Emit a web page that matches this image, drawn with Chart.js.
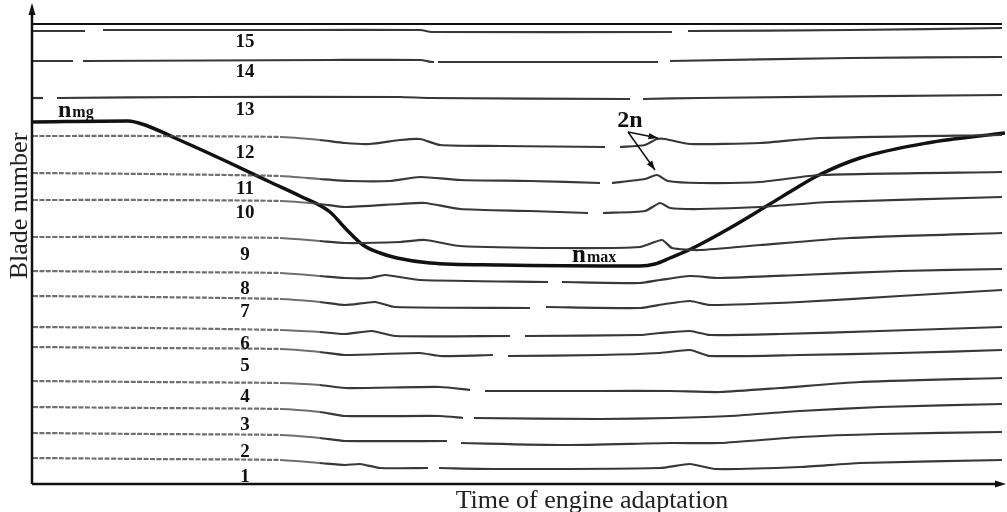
<!DOCTYPE html>
<html lang="en">
<head>
  <meta charset="UTF-8">
  <title>Blade number - time of engine adaptation</title>
  <script src="https://cdn.jsdelivr.net/npm/chart.js@4/dist/chart.umd.min.js"></script>
  <style>
    body { margin: 0; background: #fff; }
  </style>
</head>
<body>
  <canvas id="chart" width="1007" height="512"></canvas>

  <script>
    // traces: [time, level] pairs, null = gap in the record
    var blade15 = [[0,453],[52,453],null,[70,454],[267,454],[387,454],[399,452],[639,452],null,[655,453],[817,454],[969,456]]
    var blade14 = [[0,423],[40,423],null,[50,423],[297,424],[387,424],[399,422],[401,422],null,[405,422],[625,422],null,[637,423],[817,426],[969,427]]
    var blade13 = [[0,386],[10,386],null,[24,386],[167,387],[367,387],[397,386],[597,385],null,[610,385],[667,386],[969,389]]
    var blade12 = [[0,348],[117,348],[247,347],[287,344],[312,341],[337,340],[367,344],[387,345],[407,339],[467,338],[572,337],null,[587,337],[612,339],[624,345],[632,345],[657,340],[727,341],[787,346],[969,349]]
    var blade11 = [[0,311],[117,310],[247,308],[287,305],[317,303],[357,303],[387,307],[427,304],[497,303],[567,301],null,[579,301],[612,305],[624,309],[635,303],[667,301],[727,302],[787,309],[969,312]]
    var blade10 = [[0,284],[117,284],[247,283],[287,280],[312,277],[367,280],[392,281],[427,275],[497,273],[555,271],null,[570,271],[612,273],[627,281],[637,276],[667,275],[727,277],[797,282],[969,287]]
    var blade9 = [[0,247],[117,247],[247,246],[287,243],[312,241],[367,242],[392,244],[427,238],[527,236],[607,237],[629,244],[639,236],[667,234],[727,239],[817,246],[969,251]]
    var blade8 = [[0,213],[117,212],[247,211],[287,208],[312,206],[337,206],[352,209],[387,204],[515,202],null,[529,202],[607,201],[627,204],[657,208],[687,206],[767,209],[867,213],[969,215]]
    var blade7 = [[0,188],[117,187],[247,185],[287,182],[312,179],[342,182],[362,177],[497,176],null,[513,177],[607,176],[632,180],[657,183],[677,179],[767,182],[867,188],[969,194]]
    var blade6 = [[0,157],[117,156],[247,154],[287,152],[312,150],[339,153],[362,148],[477,148],null,[492,148],[607,149],[627,151],[657,153],[677,149],[747,150],[847,153],[969,157]]
    var blade5 = [[0,137],[117,136],[247,135],[287,132],[312,129],[387,131],[407,128],[460,129],null,[475,128],[567,129],[627,131],[657,134],[677,128],[767,129],[867,131],[969,134]]
    var blade4 = [[0,103],[117,102],[247,101],[287,99],[312,96],[407,97],[437,94],null,[452,93],[567,93],[637,93],[687,92],[747,96],[827,102],[969,106]]
    var blade3 = [[0,77],[117,76],[247,75],[287,72],[312,68],[407,68],[430,66],null,[441,66],[567,65],[637,66],[697,68],[767,73],[847,77],[969,80]]
    var blade2 = [[0,51],[117,50],[247,49],[287,46],[312,43],[414,43],null,[428,41],[532,39],[637,41],[687,41],[767,47],[847,50],[969,52]]
    var blade1 = [[0,26],[117,25],[247,24],[287,21],[312,19],[327,20],[347,16],[395,16],null,[406,16],[467,15],[627,16],[657,20],[682,15],[767,17],[827,21],[969,24]]

    // rotation speed n: from n_mg down to n_max and back
    var speedCurve = [[0,362],[95,363],[112,359],[142,346],[197,321],[237,302],[267,288],[297,272],[312,256],[330,239],[347,231],[364,226],[397,221],[467,219],[607,218],[622,220],[637,226],[660,236],[697,256],[737,280],[760,294],[784,308],[827,326],[894,341],[972,351]]

    var blades = [blade1, blade2, blade3, blade4, blade5, blade6, blade7, blade8, blade9, blade10, blade11, blade12, blade13, blade14, blade15]
    var bladeNumbers = ['1','2','3','4','5','6','7','8','9','10','11','12','13','14','15']
    var bladeLabelLevel = [7, 32, 59, 87, 118, 140, 172, 195, 229, 271, 295, 331, 374, 412, 442]
    var labelTime = 212

    function toPoints(pairs) {
      var pts = []
      pairs.forEach(function (p, i) {
        if (p) pts.push({ x: p[0], y: p[1] })
        else pts.push({ x: pairs[i - 1][0] + 1, y: null })
      })
      return pts
    }

    var datasets = blades.map(function (b, i) {
      var noisy = i < 12
      return {
        data: toPoints(b),
        borderColor: '#383838',
        borderWidth: 2.2,
        pointRadius: 0,
        tension: 0.2,
        spanGaps: false,
        segment: {
          borderColor: function (ctx) {
            return noisy && ctx.p1.parsed.x <= 287 ? 'rgba(75,75,75,0.8)' : undefined
          },
          borderDash: function (ctx) {
            return noisy && ctx.p1.parsed.x <= 247 ? [5, 1.5] : undefined
          }
        }
      }
    })
    datasets.push({
      data: toPoints(speedCurve),
      borderColor: '#111',
      borderWidth: 3.5,
      pointRadius: 0,
      cubicInterpolationMode: 'monotone'
    })

    function arrow(c, x0, y0, x1, y1, size) {
      var ang = Math.atan2(y1 - y0, x1 - x0)
      c.beginPath(); c.moveTo(x0, y0); c.lineTo(x1, y1); c.stroke()
      c.beginPath()
      c.moveTo(x1, y1)
      c.lineTo(x1 - size * Math.cos(ang - 0.33), y1 - size * Math.sin(ang - 0.33))
      c.lineTo(x1 - size * Math.cos(ang + 0.33), y1 - size * Math.sin(ang + 0.33))
      c.closePath(); c.fill()
    }

    var overlay = {
      id: 'overlay',
      afterDatasetsDraw: function (chart) {
        var c = chart.ctx, xs = chart.scales.x, ys = chart.scales.y, a = chart.chartArea
        c.save()
        c.strokeStyle = '#111'
        c.fillStyle = '#111'

        // top edge of the record
        c.lineWidth = 2
        c.beginPath()
        c.moveTo(a.left, ys.getPixelForValue(460))
        c.lineTo(xs.getPixelForValue(969), ys.getPixelForValue(460))
        c.stroke()

        // axes with arrows
        c.lineWidth = 2.5
        c.beginPath(); c.moveTo(a.left - 1, 12); c.lineTo(a.left - 1, a.bottom); c.stroke()
        c.beginPath(); c.moveTo(a.left - 1, a.bottom); c.lineTo(a.right - 6, a.bottom); c.stroke()
        c.beginPath(); c.moveTo(a.left - 1, 3); c.lineTo(a.left - 4.5, 15); c.lineTo(a.left + 2.5, 15); c.closePath(); c.fill()
        c.beginPath(); c.moveTo(a.right + 1, a.bottom); c.lineTo(a.right - 10, a.bottom - 3.5); c.lineTo(a.right - 10, a.bottom + 3.5); c.closePath(); c.fill()

        // blade numbers
        c.font = 'bold 19px "Liberation Serif"'
        c.textAlign = 'center'
        c.textBaseline = 'middle'
        bladeNumbers.forEach(function (t, i) {
          c.fillText(t, xs.getPixelForValue(labelTime), ys.getPixelForValue(bladeLabelLevel[i]))
        })

        // n_mg, n_max, 2n
        c.textAlign = 'left'
        c.textBaseline = 'alphabetic'
        function sub(big, small, t, lv, bs, ss) {
          var x = xs.getPixelForValue(t), y = ys.getPixelForValue(lv)
          c.font = 'bold ' + bs + 'px "Liberation Serif"'
          c.fillText(big, x, y)
          var w = c.measureText(big).width
          c.font = 'bold ' + ss + 'px "Liberation Serif"'
          c.fillText(small, x + w + 1, y)
        }
        sub('n', 'mg', 25, 367, 24, 16)
        sub('n', 'max', 539, 222, 25, 16)
        c.font = 'bold 24px "Liberation Serif"'
        c.textAlign = 'center'
        c.fillText('2n', xs.getPixelForValue(597), ys.getPixelForValue(357))

        c.lineWidth = 1.5
        var sx = xs.getPixelForValue(595), sy = ys.getPixelForValue(352)
        arrow(c, sx, sy, xs.getPixelForValue(625), ys.getPixelForValue(346), 10)
        arrow(c, sx, sy, xs.getPixelForValue(622), ys.getPixelForValue(314), 10)

        // axis titles
        c.font = '26px "Liberation Serif"'
        c.textAlign = 'center'
        c.fillStyle = '#222'
        c.fillText('Time of engine adaptation', 592, 508)
        c.translate(27, 206)
        c.rotate(-Math.PI / 2)
        c.font = '26px "Liberation Serif"'
        c.fillText('Blade number', 0, 0)
        c.restore()
      }
    }

    var ctx = document.getElementById('chart').getContext('2d')
    var chart = new Chart(ctx, {
      type: 'line',
      data: { datasets: datasets },
      options: {
        responsive: false,
        animation: false,
        layout: { padding: { left: 33, right: 2, top: 24, bottom: 28 } },
        plugins: { legend: { display: false }, tooltip: { enabled: false } },
        scales: {
          x: { type: 'linear', min: 0, max: 972, display: false },
          y: { type: 'linear', min: 0, max: 460, display: false }
        }
      },
      plugins: [overlay]
    })
  </script>
</body>
</html>
